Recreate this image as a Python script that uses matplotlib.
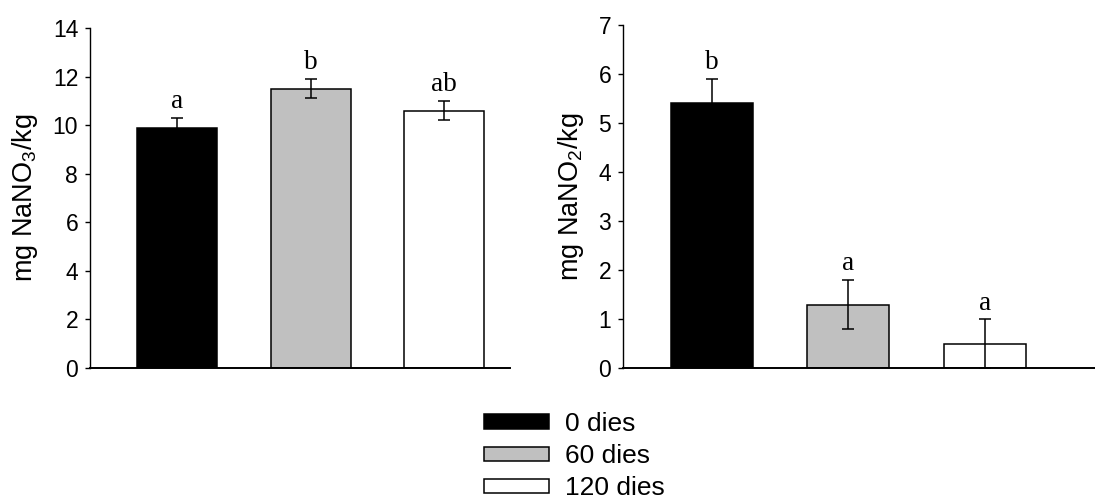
import matplotlib
matplotlib.use('Agg')
import matplotlib.pyplot as plt
from matplotlib.patches import Patch

plt.rcParams['font.family'] = ['Liberation Sans', 'DejaVu Sans']

# 数据
groups = ['0 dies', '60 dies', '120 dies']
colors = ['black', '#c0c0c0', 'white']

nitrate = [9.9, 11.5, 10.6]
nitrate_err = [0.4, 0.4, 0.4]
nitrate_letters = ['a', 'b', 'ab']

nitrite = [5.4, 1.3, 0.5]
nitrite_err = [0.5, 0.5, 0.5]
nitrite_letters = ['b', 'a', 'a']


def draw_panel(ax, values, errs, letters, ylabel, ymax, xlim):
    x = list(range(len(values)))
    ax.bar(x, values, width=0.6, color=colors, edgecolor='black', linewidth=1.1,
           yerr=errs, error_kw=dict(ecolor='black', elinewidth=1.1, capsize=4, capthick=1.1),
           zorder=2)
    for xi, v, e, lab in zip(x, values, errs, letters):
        ax.annotate(lab, (xi, v + e), xytext=(0, 7), textcoords='offset points',
                    ha='center', va='baseline', fontsize=19.5, family='Liberation Serif')
    ax.set_ylim(0, ymax)
    ax.set_xlim(*xlim)
    ax.set_xticks([])
    ax.spines['top'].set_visible(False)
    ax.spines['right'].set_visible(False)
    ax.spines['left'].set_linewidth(1.0)
    ax.spines['bottom'].set_linewidth(1.4)
    ax.tick_params(axis='y', direction='out', length=3.5, width=1.0, pad=5, labelsize=16.5)
    ax.set_ylabel(ylabel, fontsize=19.5, labelpad=9)


fig = plt.figure(figsize=(10.95, 5.0), dpi=100)
ax1 = fig.add_axes([0.0822, 0.264, 0.3836, 0.68])
ax2 = fig.add_axes([0.569, 0.2634, 0.431, 0.687])

draw_panel(ax1, nitrate, nitrate_err, nitrate_letters,
           r'mg NaNO$\mathregular{_3}$/kg', 14, (-0.652, 2.494))
draw_panel(ax2, nitrite, nitrite_err, nitrite_letters,
           r'mg NaNO$\mathregular{_2}$/kg', 7, (-0.651, 2.806))

# 图例
handles = [Patch(facecolor=c, edgecolor='black', linewidth=1.1, label=g)
           for c, g in zip(colors, groups)]
fig.legend(handles=handles, loc='center left', bbox_to_anchor=(484 / 1095, 1 - 456 / 500),
           frameon=False, fontsize=19, handlelength=2.46, handleheight=0.45,
           handletextpad=0.6, labelspacing=0.31, borderpad=0, borderaxespad=0)

fig.savefig('out.png', dpi=100)
